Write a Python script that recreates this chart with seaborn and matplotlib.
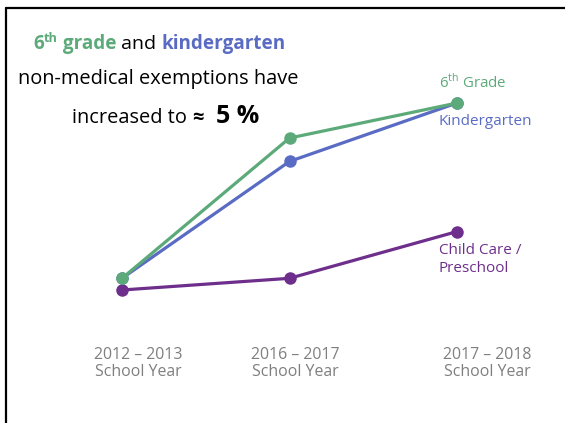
import pandas as pd
import seaborn as sns
import matplotlib.pyplot as plt
from matplotlib.lines import Line2D
from matplotlib.transforms import ScaledTranslation

# Data (percent non-medical exemptions)
years = ['2012 – 2013\nSchool Year', '2016 – 2017\nSchool Year', '2017 – 2018\nSchool Year']
sixth_grade = [2.0, 4.4, 5.0]
kindergarten = [2.0, 4.0, 5.0]
child_care = [1.8, 2.0, 2.8]

groups = ['6th Grade', 'Kindergarten', 'Child Care / Preschool']
colors = {'6th Grade': '#5caa79', 'Kindergarten': '#5a6bc3', 'Child Care / Preschool': '#6e2f8c'}

df = pd.DataFrame({
    'year': list(range(3)) * 3,
    'value': sixth_grade + kindergarten + child_care,
    'group': [g for g in groups for _ in range(3)],
})

sns.set_theme(style='white')
plt.rcParams['font.family'] = ['Open Sans', 'DejaVu Sans']

W, H = 565, 423
fig = plt.figure(figsize=(W / 100, H / 100), dpi=100)
ax = fig.add_axes([122 / W, 1 - 290 / H, 335 / W, 187 / H])

# draw child care first so the others sit on top
order = ['Child Care / Preschool', 'Kindergarten', '6th Grade']
for g in order:
    sub = df[df['group'] == g]
    sns.lineplot(data=sub, x='year', y='value', color=colors[g], linewidth=2.3,
                 marker='o', markersize=9, markeredgewidth=0, ax=ax, clip_on=False)

ax.set_xlim(0, 2)
ax.set_ylim(1.8, 5.0)
ax.set_xlabel('')
ax.set_ylabel('')
ax.set_yticks([])
ax.set_xticks(range(3))
ax.set_xticklabels(years, color='#7f7f7f', fontsize=11.4, linespacing=1.05)
ax.tick_params(axis='x', length=0, pad=41)
# the year labels sit a little right of the points in the original
for lab, dx in zip(ax.get_xticklabels(), [16, 6, 30]):
    lab.set_transform(lab.get_transform() + ScaledTranslation(dx / 100, 0, fig.dpi_scale_trans))
for s in ax.spines.values():
    s.set_visible(False)

# series labels
fig.text(439 / W, 1 - 88 / H, r'6$^{\mathregular{th}}$ Grade', color=colors['6th Grade'],
         fontsize=10.8, va='baseline', ha='left')
fig.text(439 / W, 1 - 125 / H, 'Kindergarten', color=colors['Kindergarten'],
         fontsize=11, va='baseline', ha='left')
fig.text(439 / W, 1 - 272 / H, 'Child Care /\nPreschool', color=colors['Child Care / Preschool'],
         fontsize=11, va='baseline', ha='left', linespacing=1.25)

# headline, built from pieces
renderer = fig.canvas.get_renderer()


def put(pieces, x0, y_px):
    x = x0
    for txt, kw, dy, gap in pieces:
        x += gap
        t = fig.text(x / W, 1 - (y_px - dy) / H, txt, va='baseline', ha='left', **kw)
        x += t.get_window_extent(renderer).width
    return x


green = colors['6th Grade']
blue = colors['Kindergarten']
put([('6', dict(color=green, fontsize=13.6, fontweight='bold'), 0, 0),
     ('th', dict(color=green, fontsize=9.2, fontweight='bold'), 7, 0),
     (' grade', dict(color=green, fontsize=13.6, fontweight='bold'), 0, 0),
     (' and ', dict(color='black', fontsize=14), 0, 0),
     ('kindergarten', dict(color=blue, fontsize=13.6, fontweight='bold'), 0, 0)], 33, 49)
fig.text(18 / W, 1 - 84 / H, 'non-medical exemptions have', color='black',
         fontsize=14.4, va='baseline', ha='left')
put([('increased to ', dict(color='black', fontsize=14.4), 0, 0),
     ('≈', dict(color='black', fontsize=14.4, fontweight='bold'), 0, 0),
     ('5 %', dict(color='black', fontsize=18, fontweight='bold'), 0, 12)], 72, 123)

# frame lines (left and top only)
fig.add_artist(Line2D([5.5 / W, 5.5 / W], [0, 1 - 8 / H], color='black', linewidth=1.6))
fig.add_artist(Line2D([5.5 / W, 1], [1 - 8 / H, 1 - 8 / H], color='black', linewidth=1.6))

fig.savefig('out.png', dpi=100, facecolor='white')
